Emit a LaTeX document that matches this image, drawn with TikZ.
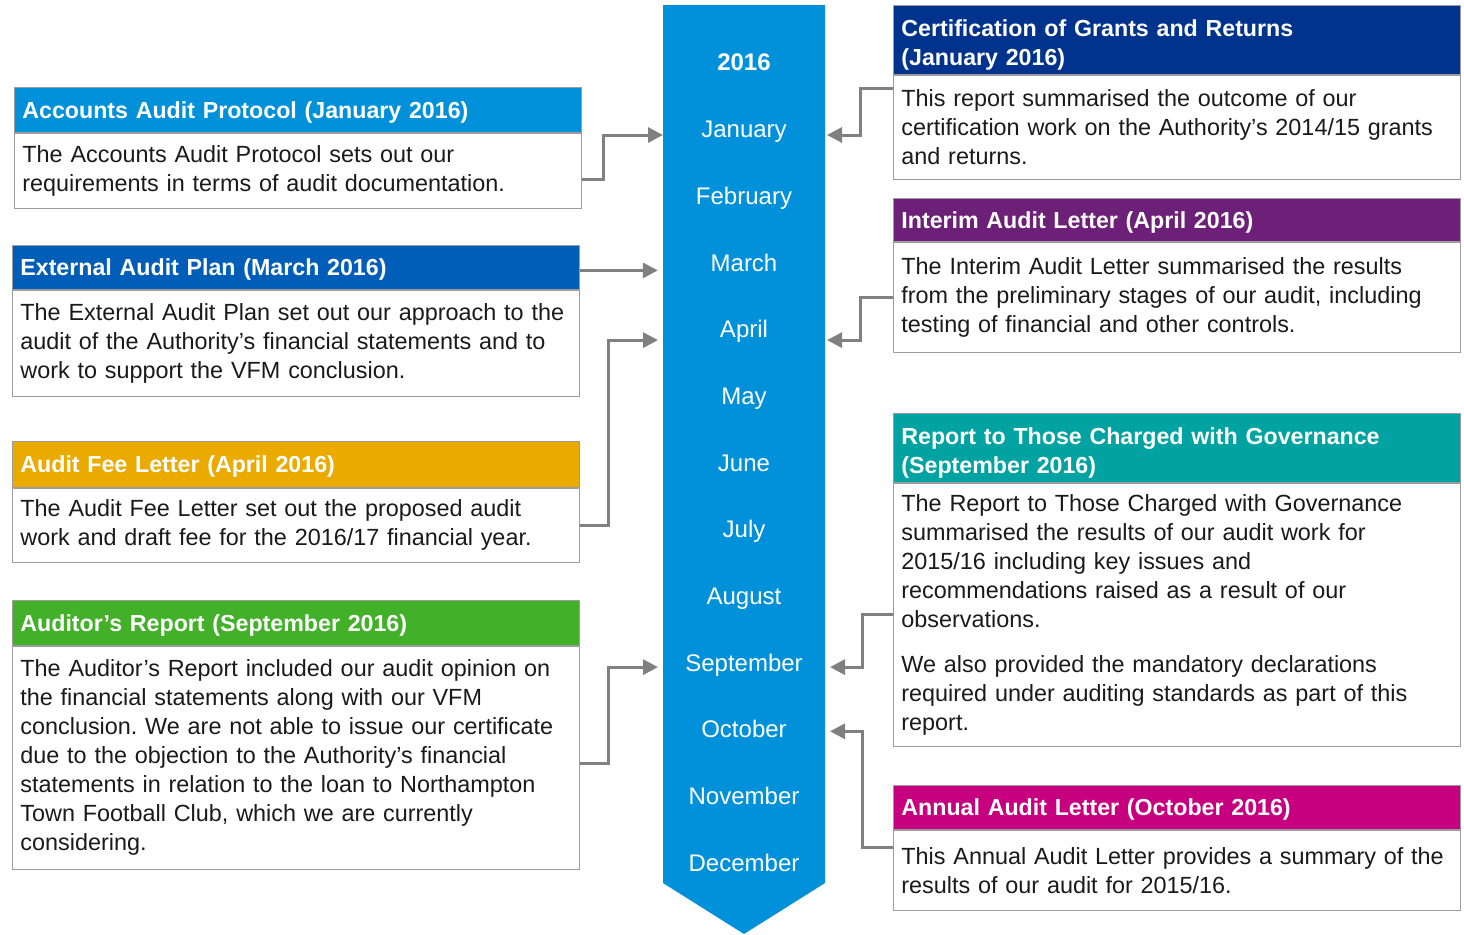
\documentclass[tikz,border=0pt]{standalone}
\usepackage{fontspec}
\setmainfont{Liberation Sans}
\usepackage{xcolor}
\usetikzlibrary{arrows.meta, positioning, calc}
\frenchspacing
\definecolor{BarBlue}{HTML}{0091DA}
\definecolor{PlanBlue}{HTML}{005EB8}
\definecolor{FeeGold}{HTML}{EAAA00}
\definecolor{ReportGreen}{HTML}{43B02A}
\definecolor{CertNavy}{HTML}{00338D}
\definecolor{InterimPurple}{HTML}{6D2077}
\definecolor{GovTeal}{HTML}{00A3A1}
\definecolor{AnnualMagenta}{HTML}{C6007E}
\definecolor{BoxGray}{HTML}{9C9C9C}
\definecolor{LinkGray}{HTML}{808080}
\definecolor{TextBlack}{HTML}{1A1A1A}
\tikzset{
    hdrbox/.style={rectangle, draw=BoxGray, anchor=north west, text width=275.5pt,
        inner xsep=4pt, inner ysep=2pt, minimum height=22.5pt, text depth=0pt, align=left,
        text=white, font=\bfseries\fontsize{11.6}{14.5}\selectfont},
    hdrtwo/.style={hdrbox, minimum height=34pt, text height=13.5pt, text depth=},
    bodybox/.style={rectangle, draw=BoxGray, fill=white, text width=275.5pt,
        inner xsep=4pt, inner ysep=4pt, align=left, text=TextBlack,
        font=\fontsize{11.7}{14.5}\selectfont},
    monthlabel/.style={text=white, text height=8.6pt, text depth=0pt,
        font=\fontsize{12}{14.5}\selectfont},
    linkarrow/.style={-{Triangle[length=7.5pt, width=7.5pt]}, line width=1.5pt, LinkGray},
}

\begin{document}
\begin{tikzpicture}[x=0.5pt, y=-0.5pt]
    \useasboundingbox (0,0) rectangle (1464,934);

    % timeline bar with months
    \fill[BarBlue] (663,5) -- (825,5) -- (825,883) -- (744,934) -- (663,883) -- cycle;
    \coordinate (barW) at (663,5);
    \coordinate (barE) at (825,5);
    \node[monthlabel, font=\bfseries\fontsize{12}{14.5}\selectfont] (year) at (744,62) {2016};
    \foreach \mon [count=\i] in {January, February, March, April, May, June, July,
        August, September, October, November, December}
        \node[monthlabel] (m\i) at (744, {129+66.7*(\i-1)}) {\mon};

    % left column
    \node[hdrbox, fill=BarBlue] (aaph) at (14,87) {Accounts Audit Protocol (January 2016)};
    \node[bodybox, minimum height=37.5pt, below=0pt of aaph] (aapb)
        {The Accounts Audit Protocol sets out our\\requirements in terms of audit documentation.};

    \node[hdrbox, fill=PlanBlue, minimum height=22pt] (eaph) at (12,245) {External Audit Plan (March 2016)};
    \node[bodybox, minimum height=53pt, below=0pt of eaph] (eapb)
        {The External Audit Plan set out our approach to the\\audit of the Authority’s financial statements and to\\work to support the VFM conclusion.};

    \node[hdrbox, fill=FeeGold, minimum height=23pt] (aflh) at (12,441) {Audit Fee Letter (April 2016)};
    \node[bodybox, minimum height=37pt, below=0pt of aflh] (aflb)
        {The Audit Fee Letter set out the proposed audit\\work and draft fee for the 2016/17 financial year.};

    \node[hdrbox, fill=ReportGreen] (arh) at (12,600) {Auditor’s Report (September 2016)};
    \node[bodybox, minimum height=111.5pt, below=0pt of arh] (arb)
        {The Auditor’s Report included our audit opinion on\\the financial statements along with our VFM\\conclusion. We are not able to issue our certificate\\due to the objection to the Authority’s financial\\statements in relation to the loan to Northampton\\Town Football Club, which we are currently\\considering.};

    % right column
    \node[hdrtwo, fill=CertNavy] (certh) at (893,5)
        {Certification of Grants and Returns\\(January 2016)};
    \node[bodybox, minimum height=52pt, below=0pt of certh] (certb)
        {This report summarised the outcome of our\\certification work on the Authority’s 2014/15 grants\\and returns.};

    \node[hdrbox, fill=InterimPurple, minimum height=21.5pt] (ialh) at (893,198) {Interim Audit Letter (April 2016)};
    \node[bodybox, minimum height=55pt, below=0pt of ialh] (ialb)
        {The Interim Audit Letter summarised the results\\from the preliminary stages of our audit, including\\testing of financial and other controls.};

    \node[hdrtwo, fill=GovTeal] (tcwgh) at (893,413)
        {Report to Those Charged with Governance\\(September 2016)};
    \node[bodybox, minimum height=131.5pt, below=0pt of tcwgh] (tcwgb)
        {The Report to Those Charged with Governance\\summarised the results of our audit work for\\2015/16 including key issues and\\recommendations raised as a result of our\\observations.\\[8pt]We also provided the mandatory declarations\\required under auditing standards as part of this\\report.};

    \node[hdrbox, fill=AnnualMagenta, minimum height=22pt] (aalh) at (893,785) {Annual Audit Letter (October 2016)};
    \node[bodybox, minimum height=40pt, below=0pt of aalh] (aalb)
        {This Annual Audit Letter provides a summary of the\\results of our audit for 2015/16.};

    % connectors to the timeline
    \draw[linkarrow] ($(aapb.east)+(0,8.5)$) -- ++(22,0) |- ($(barW |- m1)+(0,6)$);
    \draw[linkarrow] ($(eaph.east)+(0,3)$) -- ++(78,0);
    \draw[linkarrow] (aflb.east) -- ++(29,0) |- ($(barW |- m4)+(-5,11)$);
    \draw[linkarrow] ($(arb.east)+(0,5.5)$) -- ++(29,0) |- ($(barW |- m9)+(-5,4.5)$);
    \draw[linkarrow] ($(certb.north west)+(0,14)$) -- ++(-33,0) |- ($(barE |- m1)+(2,6)$);
    \draw[linkarrow] (ialb.west) -- ++(-33,0) |- ($(barE |- m4)+(2,11)$);
    \draw[linkarrow] (tcwgb.west) -- ++(-31,0) |- ($(barE |- m9)+(5,4.5)$);
    \draw[linkarrow] ($(aalb.north west)+(0,18)$) -- ++(-31,0) |- ($(barE |- m10)+(5,2)$);
\end{tikzpicture}
\end{document}
